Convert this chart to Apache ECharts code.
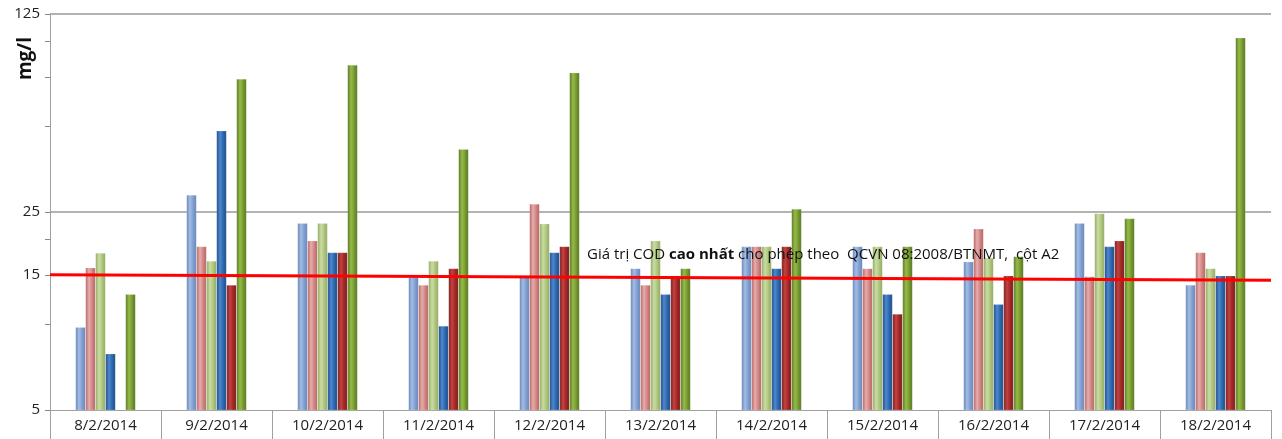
<!DOCTYPE html>
<html>
<head>
<meta charset="utf-8">
<script src="https://cdn.jsdelivr.net/npm/echarts@6/dist/echarts.min.js"></script>
<style>html,body{margin:0;padding:0;background:#fff}#c{width:1282px;height:439px}</style>
</head>
<body>
<div id="c"></div>
<script>
const categories = ['8/2/2014','9/2/2014','10/2/2014','11/2/2014','12/2/2014','13/2/2014','14/2/2014','15/2/2014','16/2/2014','17/2/2014','18/2/2014'];
const s1 = [9.8, 28.7, 22.8, 14.7, 14.7, 15.8, 18.9, 18.9, 16.7, 22.8, 13.8];
const s2 = [15.9, 18.9, 19.8, 13.8, 26.7, 13.8, 18.9, 15.8, 21.8, 14.8, 18.0];
const s3 = [17.9, 16.8, 22.8, 16.8, 22.7, 19.8, 18.9, 18.9, 17.2, 24.7, 15.8];
const s4 = [7.9, 48.4, 18.0, 9.9, 18.0, 12.8, 15.8, 12.8, 11.8, 18.9, 14.9];
const s5 = [null, 13.8, 18.0, 15.8, 18.9, 14.9, 18.9, 10.9, 14.9, 19.8, 14.9];
const s6 = [12.8, 73.7, 82.6, 41.6, 77.6, 15.8, 25.6, 18.9, 17.4, 23.7, 103];
const limitLine = [[0, 15.0], [1, 14.35]];
const yLabelValues = [5, 15, 25, 125];
const yTickValues = [5, 10, 15, 20, 25, 50, 75, 100, 125];
const gridValues = [25, 125];
const limitText = ['Giá trị COD ', 'cao nhất', ' cho phép theo  QCVN 08:2008/BTNMT,  cột A2'];

function grad(edge, mid, light) {
  return new echarts.graphic.LinearGradient(0, 0, 1, 0, [
    {offset: 0, color: edge},
    {offset: 0.35, color: light},
    {offset: 0.6, color: mid},
    {offset: 1, color: edge}
  ]);
}
const styles = [
  grad('#6383b6', '#87a4d4', '#a4bde4'),
  grad('#b4605e', '#d58e8c', '#e6aeac'),
  grad('#8ea85a', '#b4cb86', '#cadca6'),
  grad('#1a4785', '#326fb7', '#4f88cc'),
  grad('#781a1a', '#a92c2b', '#c24443'),
  grad('#53741c', '#7ea236', '#97bb4a')
];
const seriesData = [s1, s2, s3, s4, s5, s6];
const FONT = 'Open Sans';

const series = seriesData.map((d, i) => ({
  type: 'bar',
  data: d,
  barWidth: 10,
  barGap: '0%',
  itemStyle: {color: styles[i], borderColor: 'rgba(255,255,255,0.35)', borderWidth: 0.5},
  z: 2
}));
series[0].markLine = {
  silent: true,
  symbol: 'none',
  label: {show: false},
  lineStyle: {color: '#9a9a9a', width: 1.5, type: 'solid'},
  data: gridValues.map(v => ({yAxis: v})),
  z: 1
};
series.push({
  type: 'line',
  xAxisIndex: 1,
  data: limitLine,
  symbol: 'none',
  lineStyle: {color: '#ff0000', width: 3},
  z: 5,
  silent: true
});

const chart = echarts.init(document.getElementById('c'), null, {renderer: 'canvas'});
chart.setOption({
  backgroundColor: '#fff',
  animation: false,
  grid: {left: 50, right: 11, top: 14, bottom: 29, containLabel: false},
  xAxis: [{
    type: 'category',
    data: categories,
    axisLine: {lineStyle: {color: '#a0a0a0', width: 1}},
    axisTick: {show: true, length: 29, lineStyle: {color: '#a0a0a0'}},
    axisLabel: {fontFamily: FONT, fontSize: 15, color: '#222', margin: 8}
  }, {
    type: 'value', min: 0, max: 1, show: false
  }],
  yAxis: {
    type: 'log',
    logBase: 5,
    min: 5,
    max: 125,
    interval: 1,
    axisLine: {show: true, lineStyle: {color: '#a0a0a0'}},
    axisTick: {show: true, length: 5, lineStyle: {color: '#888'}, customValues: yTickValues},
    axisLabel: {fontFamily: FONT, fontSize: 15, color: '#222', margin: 10, customValues: yLabelValues},
    splitLine: {show: false}
  },
  graphic: [{
    type: 'text',
    left: 16, top: 37,
    rotation: Math.PI / 2,
    style: {text: 'mg/l', font: 'bold 19px "Open Sans"', fill: '#111'}
  }, {
    type: 'text',
    left: 587, top: 247,
    z: 10,
    style: {
      text: '{a|' + limitText[0] + '}{b|' + limitText[1] + '}{a|' + limitText[2] + '}',
      rich: {
        a: {fontFamily: FONT, fontSize: 15, fill: '#111', color: '#111'},
        b: {fontFamily: FONT, fontSize: 15, fontWeight: 'bold', fill: '#111', color: '#111'}
      }
    }
  }],
  series: series
});
</script>
</body>
</html>
